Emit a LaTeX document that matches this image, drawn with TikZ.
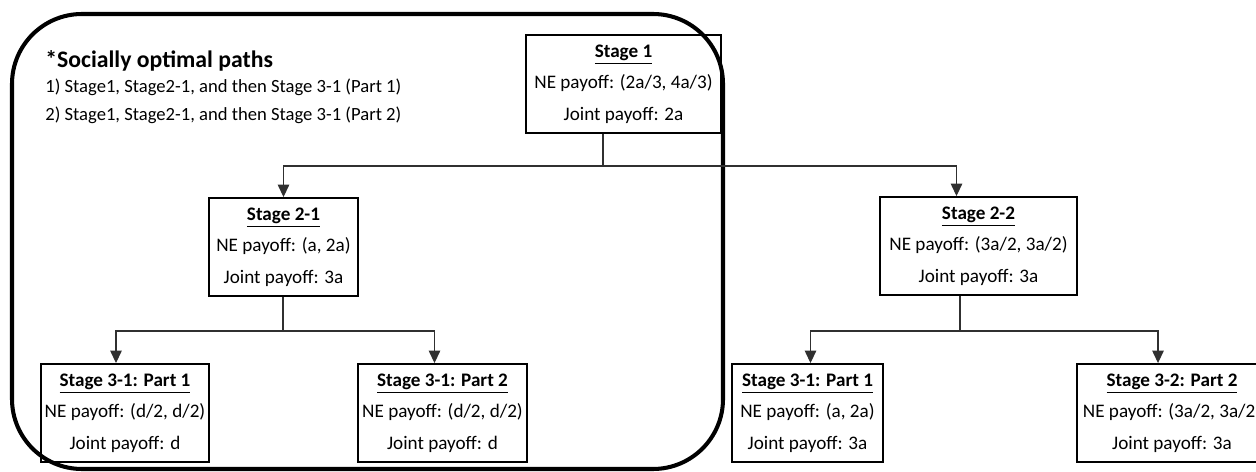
\documentclass[tikz,border=0pt]{standalone}
\usepackage{fontspec}
\setmainfont{Carlito}
\usepackage{xcolor}
\usepackage{tikz}
\usetikzlibrary{arrows.meta,positioning,calc}
\definecolor{linkC}{HTML}{303030}

\begin{document}
\begin{tikzpicture}[x=0.02cm, y=-0.02cm, >={Triangle[width=6.5pt,length=7pt]},
  stagebox/.style={draw, line width=1.1pt, align=center, minimum height=1.96cm, inner sep=0pt,
    font=\fontsize{10.9}{17.8}\selectfont},
  pathtext/.style={anchor=west, inner sep=0pt, font=\fontsize{10.6}{12}\selectfont},
  link/.style={linkC, line width=0.6pt},
  optpath/.style={line width=2.3pt, rounded corners=1.4cm}]
\useasboundingbox (0,0) rectangle (1256,472);
\clip (0,0) rectangle (1256,472);
% socially optimal region
\draw[optpath] (12,14) rectangle (723,469);
\node[anchor=west, inner sep=0pt, font=\fontsize{13.5}{15}\selectfont\bfseries] (title) at (45,61) {*Socially optimal paths};
\node[pathtext] (path1) at (45,87) {1) Stage1, Stage2-1, and then Stage 3-1 (Part 1)};
\node[pathtext] (path2) at (45,115) {2) Stage1, Stage2-1, and then Stage 3-1 (Part 2)};
% stages
\node[stagebox, minimum width=3.9cm] (s1) at (623.5,84) {\underline{\textbf{Stage 1}}\\ NE payoff: (2a/3, 4a/3)\\ Joint payoff: 2a};
\node[stagebox, minimum width=2.98cm] (s21) at (283.5,247) {\underline{\textbf{Stage 2-1}}\\ NE payoff: (a, 2a)\\ Joint payoff: 3a};
\node[stagebox, minimum width=3.94cm] (s22) at (978.5,246) {\underline{\textbf{Stage 2-2}}\\ NE payoff: (3a/2, 3a/2)\\ Joint payoff: 3a};
\node[stagebox, minimum width=3.36cm] (s31a) at (125,413) {\underline{\textbf{Stage 3-1: Part 1}}\\ NE payoff: (d/2, d/2)\\ Joint payoff: d};
\node[stagebox, minimum width=3.38cm] (s31b) at (442.5,413) {\underline{\textbf{Stage 3-1: Part 2}}\\ NE payoff: (d/2, d/2)\\ Joint payoff: d};
\node[stagebox, minimum width=3.02cm] (s31c) at (807.5,413) {\underline{\textbf{Stage 3-1: Part 1}}\\ NE payoff: (a, 2a)\\ Joint payoff: 3a};
\node[stagebox, minimum width=3.8cm] (s32) at (1172,413) {\underline{\textbf{Stage 3-2: Part 2}}\\ NE payoff: (3a/2, 3a/2)\\ Joint payoff: 3a};
% branching
\coordinate (j1) at (603,166);
\coordinate (j21) at (283,331);
\coordinate (j22) at (960,331);
\draw[link] (s1.south -| j1) -- (j1);
\draw[link,->] (j1) -| (s21.north);
\draw[link,->] (j1) -| ($(s22.north)+(-22,0)$);
\draw[link] (s21.south -| j21) -- (j21);
\draw[link,->] (j21) -| ($(s31a.north)+(-9,0)$);
\draw[link,->] (j21) -| ($(s31b.north)+(-8,0)$);
\draw[link] (s22.south -| j22) -- (j22);
\draw[link,->] (j22) -| ($(s31c.north)+(3,0)$);
\draw[link,->] (j22) -| ($(s32.north)+(-14,0)$);
\end{tikzpicture}
\end{document}
